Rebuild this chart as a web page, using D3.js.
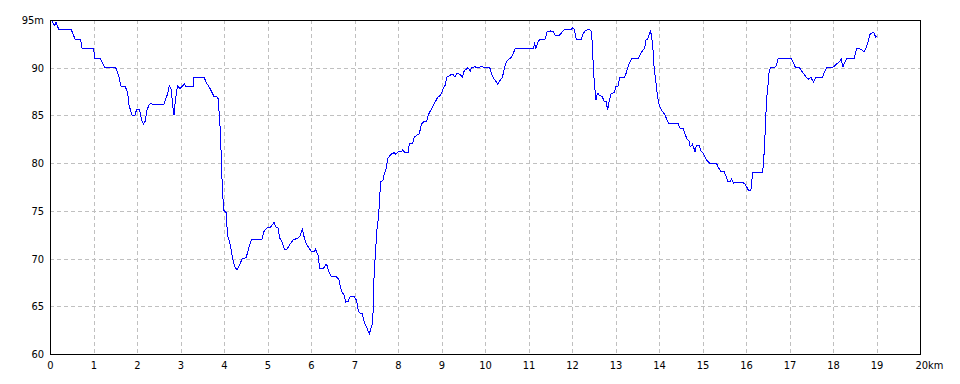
<!DOCTYPE html>
<html>
<head>
<meta charset="utf-8">
<script src="https://cdn.jsdelivr.net/npm/d3@7"></script>
<style>
  body { margin: 0; background: #fff; }
  text { font-family: "DejaVu Sans Condensed", "Liberation Sans", sans-serif; font-size: 11px; fill: #000; }
</style>
</head>
<body>
<svg id="chart" width="960" height="384"></svg>
<script>
// distance along route (km)
var distKm = [
  0.00, 0.03, 0.08, 0.11, 0.14, 0.20, 0.49, 0.53, 0.58, 0.70, 0.74, 1.00, 1.03, 1.15, 1.26, 1.51,
  1.56, 1.60, 1.62, 1.73, 1.78, 1.82, 1.89, 1.95, 1.99, 2.06, 2.10, 2.15, 2.19, 2.23, 2.28, 2.32,
  2.38, 2.61, 2.65, 2.70, 2.74, 2.79, 2.82, 2.85, 2.88, 2.93, 2.99, 3.09, 3.13, 3.29, 3.31, 3.54,
  3.60, 3.68, 3.77, 3.86, 3.89, 3.92, 3.94, 3.96, 3.99, 4.05, 4.08, 4.14, 4.20, 4.24, 4.30, 4.36,
  4.42, 4.51, 4.57, 4.63, 4.87, 4.92, 4.98, 5.07, 5.15, 5.19, 5.24, 5.28, 5.34, 5.39, 5.45, 5.51,
  5.60, 5.69, 5.75, 5.80, 5.84, 5.89, 5.95, 6.01, 6.07, 6.10, 6.16, 6.20, 6.29, 6.34, 6.36, 6.41,
  6.47, 6.58, 6.64, 6.70, 6.76, 6.80, 6.85, 6.90, 7.00, 7.05, 7.09, 7.14, 7.18, 7.23, 7.29, 7.34,
  7.38, 7.41, 7.44, 7.45, 7.48, 7.51, 7.54, 7.57, 7.60, 7.65, 7.68, 7.73, 7.76, 7.83, 7.91, 7.95,
  8.00, 8.08, 8.11, 8.16, 8.23, 8.26, 8.34, 8.37, 8.43, 8.49, 8.54, 8.60, 8.66, 8.70, 8.76, 8.81,
  8.86, 8.91, 8.98, 9.04, 9.09, 9.12, 9.21, 9.27, 9.31, 9.36, 9.43, 9.48, 9.52, 9.58, 9.61, 9.66,
  9.69, 9.76, 9.84, 9.89, 10.11, 10.17, 10.23, 10.29, 10.35, 10.40, 10.45, 10.49, 10.54, 10.60, 10.65, 10.69,
  10.72, 11.11, 11.14, 11.17, 11.21, 11.26, 11.38, 11.43, 11.50, 11.57, 11.61, 11.70, 11.75, 11.82, 11.98, 12.02,
  12.05, 12.10, 12.21, 12.25, 12.30, 12.38, 12.44, 12.47, 12.49, 12.52, 12.55, 12.57, 12.60, 12.63, 12.69, 12.74,
  12.78, 12.82, 12.86, 12.90, 12.97, 13.01, 13.06, 13.10, 13.21, 13.25, 13.30, 13.33, 13.38, 13.53, 13.58, 13.63,
  13.67, 13.70, 13.74, 13.77, 13.80, 13.83, 13.86, 13.89, 13.93, 13.96, 13.99, 14.02, 14.08, 14.13, 14.17, 14.22,
  14.44, 14.47, 14.56, 14.60, 14.65, 14.69, 14.72, 14.77, 14.80, 14.83, 14.86, 14.92, 14.97, 15.01, 15.06, 15.10,
  15.16, 15.32, 15.36, 15.42, 15.50, 15.55, 15.58, 15.64, 15.67, 15.71, 15.76, 15.92, 15.98, 16.03, 16.06, 16.11,
  16.14, 16.16, 16.37, 16.40, 16.43, 16.45, 16.47, 16.50, 16.53, 16.56, 16.65, 16.70, 16.74, 17.04, 17.09, 17.14,
  17.23, 17.29, 17.35, 17.43, 17.49, 17.55, 17.61, 17.76, 17.80, 17.85, 17.99, 18.06, 18.14, 18.19, 18.23, 18.26,
  18.32, 18.49, 18.54, 18.61, 18.66, 18.71, 18.76, 18.80, 18.85, 18.91, 18.94, 18.98, 19.00
];
// elevation (m)
var elevM = [
  95.0, 95.0, 94.6, 94.4, 94.8, 94.0, 94.0, 93.5, 93.0, 93.0, 92.0, 92.0, 91.0, 91.0, 90.0, 90.0,
  89.4, 88.8, 88.1, 88.0, 87.5, 86.0, 85.0, 85.0, 85.6, 85.6, 84.6, 84.1, 84.4, 85.6, 86.1, 86.3,
  86.1, 86.1, 86.6, 87.2, 88.1, 87.7, 86.0, 85.0, 86.5, 88.1, 87.8, 88.3, 88.0, 88.0, 89.0, 89.0,
  88.4, 87.8, 87.0, 86.9, 85.2, 83.1, 80.2, 77.7, 75.1, 74.8, 72.5, 71.5, 70.0, 69.2, 68.8, 69.35,
  70.0, 70.1, 71.1, 72.0, 72.0, 72.85, 73.2, 73.3, 73.8, 73.3, 73.2, 72.15, 71.7, 71.0, 71.0, 71.45,
  72.0, 72.1, 72.4, 73.1, 72.3, 71.6, 71.1, 70.75, 70.75, 71.0, 70.4, 69.0, 69.0, 69.4, 69.4, 68.6,
  68.1, 68.1, 67.8, 66.6, 66.15, 65.45, 65.5, 66.0, 66.0, 65.6, 64.5, 64.2, 64.2, 63.25, 62.7, 62.1,
  62.7, 63.1, 65.45, 68.3, 70.4, 72.8, 73.9, 75.5, 78.1, 78.15, 78.8, 79.5, 80.45, 80.9, 81.1, 80.9,
  81.2, 81.2, 81.4, 81.1, 81.1, 82.0, 82.1, 82.7, 82.9, 83.1, 84.1, 84.35, 84.4, 85.1, 85.6, 86.0,
  86.45, 86.9, 87.1, 87.8, 88.2, 89.0, 89.25, 89.3, 89.0, 89.45, 89.3, 89.0, 89.65, 89.9, 90.0, 89.65,
  90.0, 90.1, 90.0, 90.1, 90.0, 89.1, 88.7, 88.3, 88.7, 89.0, 90.0, 90.6, 90.9, 91.05, 91.5, 91.95,
  92.0, 92.0, 92.5, 92.0, 92.6, 93.0, 93.0, 93.8, 93.85, 93.8, 93.4, 93.35, 93.6, 94.0, 94.0, 94.2,
  94.0, 93.0, 93.0, 93.5, 93.85, 94.05, 93.85, 92.4, 89.95, 88.1, 86.6, 87.1, 87.3, 87.1, 87.0, 86.5,
  86.5, 85.6, 86.6, 87.3, 87.4, 88.0, 88.1, 89.0, 89.0, 89.5, 90.3, 90.6, 91.0, 91.0, 91.5, 91.85,
  92.0, 92.9, 93.0, 93.4, 93.85, 93.36, 92.0, 89.8, 88.5, 87.2, 86.3, 85.9, 85.4, 85.1, 84.7, 84.2,
  84.2, 83.7, 83.6, 83.0, 82.5, 82.3, 81.7, 82.0, 81.6, 81.15, 81.9, 81.9, 81.2, 81.1, 80.6, 80.3,
  80.0, 80.0, 79.6, 79.1, 79.1, 78.5, 78.1, 78.1, 78.35, 77.9, 78.0, 78.0, 77.8, 77.4, 77.1, 77.1,
  78.4, 79.0, 79.0, 79.65, 82.3, 84.2, 86.5, 87.9, 89.5, 90.0, 90.0, 90.2, 91.0, 91.0, 90.5, 90.0,
  90.0, 89.6, 89.2, 88.8, 89.0, 88.5, 89.0, 89.0, 89.5, 90.0, 90.0, 90.3, 90.6, 90.9, 90.05, 90.5,
  91.0, 91.0, 92.0, 92.0, 91.9, 91.65, 92.1, 92.6, 93.5, 93.7, 93.7, 93.2, 93.3
];
var xTicks = d3.range(0, 21);
var yTicks = [60, 65, 70, 75, 80, 85, 90, 95];

var svg = d3.select("#chart");
var plotLeft = 50, plotRight = 920, plotTop = 20, plotBottom = 354;

var x = d3.scaleLinear().domain([0, 20]).range([plotLeft, plotRight]);
var y = d3.scaleLinear().domain([60, 95]).range([plotBottom, plotTop]);

// grid
var grid = svg.append("g").attr("stroke", "#c0c0c0").attr("stroke-dasharray", "4,3").attr("shape-rendering", "crispEdges");
grid.selectAll("line.v").data(xTicks.slice(1, -1)).enter().append("line")
  .attr("class", "v")
  .attr("x1", d => Math.round(x(d)) + 0.5).attr("x2", d => Math.round(x(d)) + 0.5)
  .attr("y1", plotTop).attr("y2", plotBottom);
grid.selectAll("line.h").data(yTicks.slice(1, -1)).enter().append("line")
  .attr("class", "h")
  .attr("y1", d => Math.round(y(d)) + 0.5).attr("y2", d => Math.round(y(d)) + 0.5)
  .attr("x1", plotLeft).attr("x2", plotRight);

// elevation line (aliased, like the original bitmap)
var pts = distKm.map((d, i) => [d, elevM[i]]);
svg.append("path")
  .datum(pts)
  .attr("fill", "none")
  .attr("stroke", "#0000ff")
  .attr("stroke-width", 1)
  .attr("shape-rendering", "crispEdges")
  .attr("d", d3.line().x(d => x(d[0])).y(d => y(d[1])));

// frame
svg.append("rect")
  .attr("x", plotLeft + 0.5).attr("y", plotTop + 0.5)
  .attr("width", plotRight - plotLeft).attr("height", plotBottom - plotTop)
  .attr("fill", "none").attr("stroke", "#000").attr("stroke-width", 1)
  .attr("shape-rendering", "crispEdges");

// axes labels
var xAxis = svg.append("g").attr("transform", "translate(0," + plotBottom + ")")
  .call(d3.axisBottom(x).tickValues(xTicks).tickSize(0).tickPadding(7)
    .tickFormat(d => d == 20 ? "20km" : d));
xAxis.select(".domain").remove();
xAxis.selectAll("text").filter(d => d == 20).attr("text-anchor", "start").attr("x", -5);

var yAxis = svg.append("g").attr("transform", "translate(" + plotLeft + ",0)")
  .call(d3.axisLeft(y).tickValues(yTicks).tickSize(0).tickPadding(6)
    .tickFormat(d => d == 95 ? "95m" : d));
yAxis.select(".domain").remove();
svg.selectAll("g[font-family]").attr("font-family", null).attr("font-size", null);
</script>
</body>
</html>
